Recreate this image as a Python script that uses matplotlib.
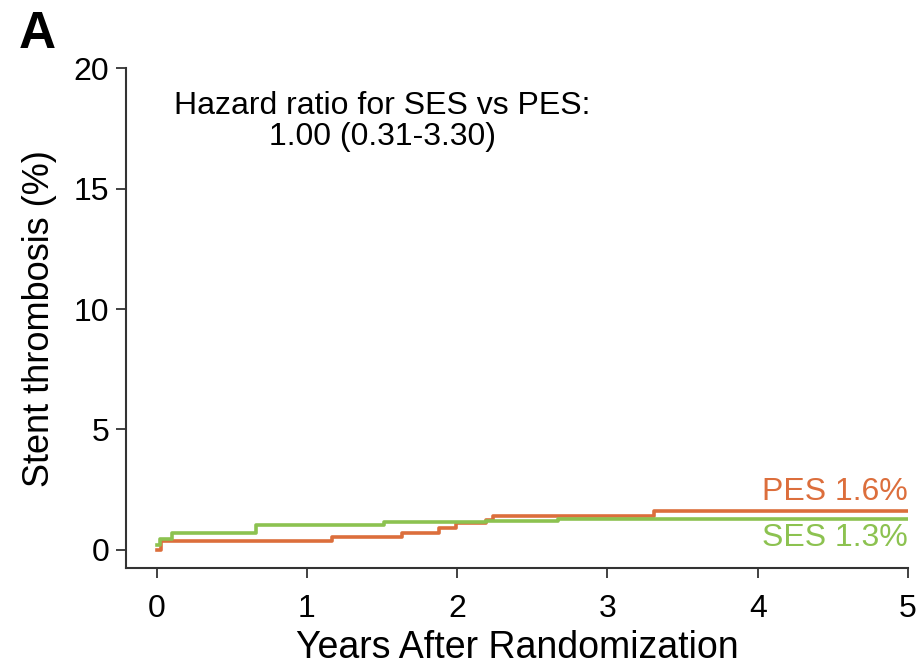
import numpy as np
import matplotlib.pyplot as plt

plt.rcParams['font.family'] = ['Liberation Sans', 'DejaVu Sans']

# Kaplan-Meier style cumulative incidence (%) for each stent arm
pes_years = [0, 0.03, 1.17, 1.63, 1.88, 1.99, 2.19, 2.24, 3.31, 5.0]
pes_rate = [0.0, 0.35, 0.55, 0.71, 0.9, 1.1, 1.25, 1.4, 1.6, 1.6]
ses_years = [0, 0.02, 0.1, 0.66, 1.51, 2.19, 2.67, 5.0]
ses_rate = [0.2, 0.45, 0.71, 1.03, 1.17, 1.22, 1.3, 1.3]

pes_label = "PES 1.6%"
ses_label = "SES 1.3%"
hr_text = "Hazard ratio for SES vs PES:\n1.00 (0.31-3.30)"

orange = "#DC6E3C"
green = "#8CC250"
axis_col = "#333333"

fig = plt.figure(figsize=(9.17, 6.69), dpi=100)
ax = fig.add_axes([0.1374, 0.151, 0.8528, 0.747])

ax.plot(pes_years, pes_rate, drawstyle='steps-post', color=orange, lw=2.6)
ax.plot(ses_years, ses_rate, drawstyle='steps-post', color=green, lw=2.6)

ax.set_xlim(-0.204, 5)
ax.set_ylim(-0.75, 20)
ax.set_xticks(np.arange(0, 6, 1))
ax.set_yticks(np.arange(0, 21, 5))

for side in ['top', 'right']:
    ax.spines[side].set_visible(False)
for side in ['left', 'bottom']:
    ax.spines[side].set_color(axis_col)
    ax.spines[side].set_linewidth(1.5)

ax.tick_params(axis='both', direction='out', length=7, width=1.3,
               color=axis_col, labelsize=23)
ax.tick_params(axis='x', pad=12)
ax.tick_params(axis='y', pad=5)

ax.set_xlabel("Years After Randomization", fontsize=27, labelpad=4)
ax.set_ylabel("Stent thrombosis (%)", fontsize=26, labelpad=12)

ax.text(1.5, 17.8, hr_text, ha='center', va='center', fontsize=23,
        linespacing=1.05, multialignment='center')

ax.text(5, 2.4, pes_label, ha='right', va='center', fontsize=23, color=orange)
ax.text(5, 0.5, ses_label, ha='right', va='center', fontsize=23, color=green)

fig.text(0.02, 0.985, "A", fontsize=37, fontweight='bold', ha='left', va='top')

fig.savefig("out.png", dpi=100)
